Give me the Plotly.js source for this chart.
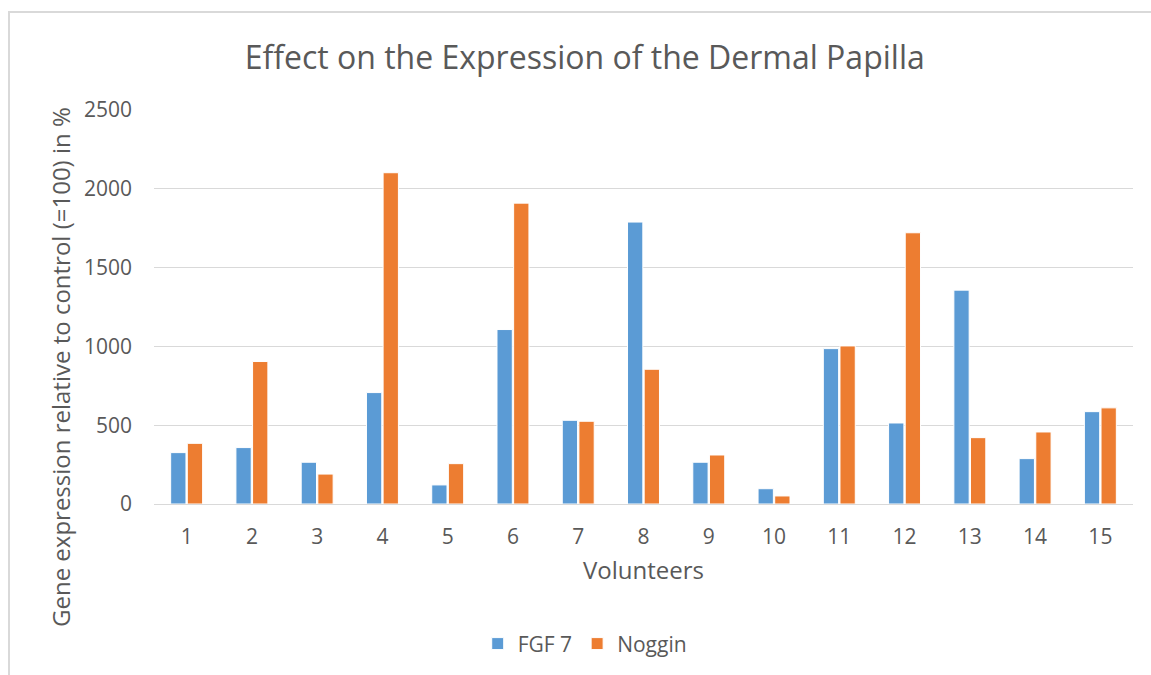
<!DOCTYPE html>
<html>
<head>
<meta charset="utf-8">
<script src="https://cdn.plot.ly/plotly-3.0.1.min.js"></script>
<style>
html,body{margin:0;padding:0;background:#fff;overflow:hidden;}
#frame{position:absolute;left:8px;top:11px;width:1160px;height:700px;border:2px solid #d9d9d9;box-sizing:border-box;}
#chart{position:absolute;left:0;top:0;width:1151px;height:675px;}
</style>
</head>
<body>
<div id="frame"></div>
<div id="chart"></div>
<script>
const volunteers = ["1","2","3","4","5","6","7","8","9","10","11","12","13","14","15"];
const fgf7 = [326, 358, 265, 707, 121, 1107, 531, 1789, 265, 97, 986, 514, 1357, 288, 586];
const noggin = [385, 904, 190, 2102, 256, 1909, 525, 855, 311, 51, 1003, 1721, 421, 457, 610];
const seriesNames = ["FGF 7", "Noggin"];
const yTitle = "Gene expression relative to control (=100) in %";

const fontFam = "Open Sans, sans-serif";
const grey = "#595959";

const traces = [
  {type:"bar", name:seriesNames[0], x:volunteers, y:fgf7,
   marker:{color:"#5B9BD5", line:{color:"#ffffff", width:1}}},
  {type:"bar", name:seriesNames[1], x:volunteers, y:noggin,
   marker:{color:"#ED7D31", line:{color:"#ffffff", width:1}}}
];

const layout = {
  width:1151, height:675,
  paper_bgcolor:"rgba(0,0,0,0)", plot_bgcolor:"rgba(0,0,0,0)",
  margin:{l:154, r:18, t:110, b:171},
  barmode:"group", bargap:0.49, bargroupgap:0.08,
  title:{text:"Effect on the Expression of the Dermal Papilla",
         font:{family:fontFam, size:32, color:grey},
         xref:"container", x:0.508, xanchor:"center",
         yref:"container", y:0.914, yanchor:"middle"},
  xaxis:{type:"category", tickfont:{family:fontFam, size:21, color:grey},
         showgrid:false, showline:false, ticks:"", ticklabelstandoff:18,
         title:{text:"Volunteers", font:{family:fontFam, size:24, color:grey}, standoff:13}},
  yaxis:{range:[0,2500], dtick:500, tickfont:{family:fontFam, size:21, color:grey},
         gridcolor:"#d9d9d9", gridwidth:1, zeroline:true, zerolinecolor:"#d9d9d9", zerolinewidth:1,
         showline:false, ticks:"", ticklabelstandoff:21},
  annotations:[{text:yTitle, textangle:-90, showarrow:false,
                xref:"paper", yref:"paper", x:(60-154)/979, y:(504-367)/394,
                xanchor:"center", yanchor:"middle",
                font:{family:fontFam, size:24, color:grey}}],
  legend:{orientation:"h", xref:"container", x:0.508, xanchor:"center", yref:"container", y:0.046, yanchor:"middle",
          font:{family:fontFam, size:21, color:grey}, itemwidth:30, traceorder:"normal"},
  showlegend:true
};

Plotly.newPlot("chart", traces, layout, {displayModeBar:false, staticPlot:true});
</script>
</body>
</html>
